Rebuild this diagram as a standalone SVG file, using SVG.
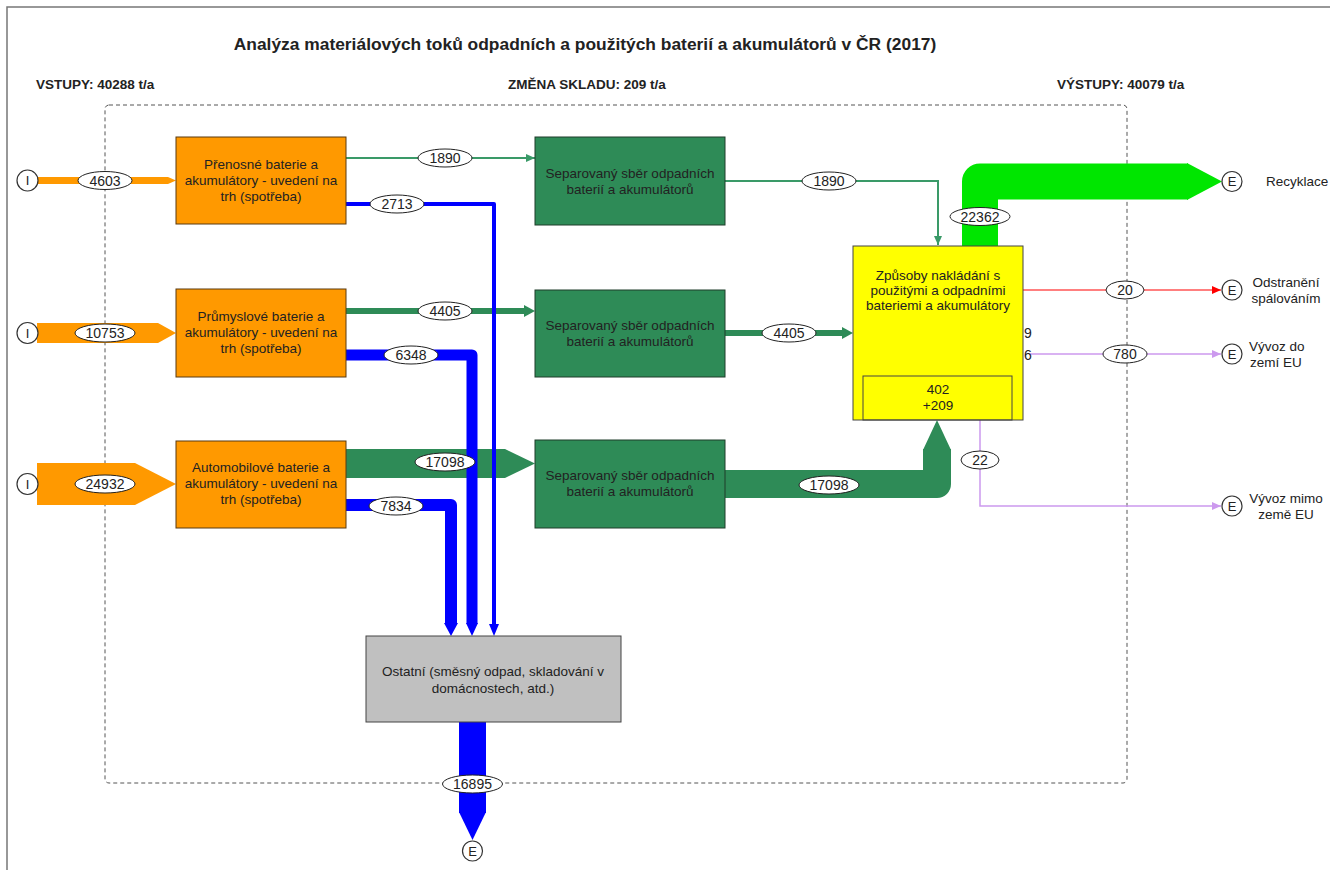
<svg xmlns="http://www.w3.org/2000/svg" width="1330" height="870" viewBox="0 0 1330 870">
<style>
text{font-family:"Liberation Sans",Arial,sans-serif;fill:#222}
.t{font-size:13.5px;text-anchor:middle}
.h{font-size:13.5px;font-weight:bold}
.lbl{fill:#fff;stroke:#222;stroke-width:1}
.ln{font-size:14px;text-anchor:middle}
.org{fill:#FF9900;stroke:#5a3a10;stroke-width:1}
.grn{fill:#2E8B57;stroke:#1f3d2a;stroke-width:1}
.cir{fill:#fff;stroke:#333;stroke-width:1.2}
.ct{font-size:13px;text-anchor:middle}
.r{font-size:13.5px}
</style>
<defs>
<marker id="mg" markerUnits="userSpaceOnUse" markerWidth="10" markerHeight="10" refX="9" refY="5" orient="auto"><path d="M0,1 L9,5 L0,9 Z" fill="#3a9a68"/></marker>
<marker id="mr" markerUnits="userSpaceOnUse" markerWidth="10" markerHeight="10" refX="9" refY="5" orient="auto"><path d="M0,1 L9,5 L0,9 Z" fill="#ff0000"/></marker>
<marker id="ml" markerUnits="userSpaceOnUse" markerWidth="10" markerHeight="10" refX="9" refY="5" orient="auto"><path d="M0,1 L9,5 L0,9 Z" fill="#cc99ee"/></marker>
</defs>
<rect x="0" y="0" width="1330" height="870" fill="#fff"/>
<rect x="7" y="7" width="1400" height="900" fill="none" stroke="#777" stroke-width="1.5"/>
<text x="585" y="50" style="font-size:17.4px;font-weight:bold;text-anchor:middle">Analýza materiálových toků odpadních a použitých baterií a akumulátorů v ČR (2017)</text>
<text class="h" x="36" y="89">VSTUPY: 40288 t/a</text>
<text class="h" x="508" y="89">ZMĚNA SKLADU: 209 t/a</text>
<text class="h" x="1057" y="89">VÝSTUPY: 40079 t/a</text>
<rect x="105" y="105" width="1022" height="678" rx="4" fill="none" stroke="#555" stroke-width="1" stroke-dasharray="4 3"/>

<g id="connectors">
<polygon points="37,177 168,177 176,180.5 168,184 37,184" fill="#FF9900"/>
<polygon points="37,323 158,323 176,333 158,343 37,343" fill="#FF9900"/>
<polygon points="37,463 135,463 176,484 135,505 37,505" fill="#FF9900"/>
<line x1="346" y1="158" x2="535" y2="158" stroke="#3a9a68" stroke-width="2" marker-end="url(#mg)"/>
<line x1="346" y1="311" x2="526" y2="311" stroke="#2E8B57" stroke-width="6"/>
<polygon points="524,305 535,311 524,317" fill="#2E8B57"/>
<polygon points="346,449 505,449 535,463.5 505,478 346,478" fill="#2E8B57"/>
<path d="M346,204 H494 V625" fill="none" stroke="#0000FF" stroke-width="4" stroke-linejoin="round"/>
<polygon points="489,624 499,624 494,636" fill="#0000FF"/>
<path d="M346,355 H472 V624" fill="none" stroke="#0000FF" stroke-width="11" stroke-linejoin="round"/>
<polygon points="466,623 478,623 472,636" fill="#0000FF"/>
<path d="M346,505 H451 V624" fill="none" stroke="#0000FF" stroke-width="12" stroke-linejoin="round"/>
<polygon points="444,623 458,623 451,636" fill="#0000FF"/>
<path d="M725,181 H938 V245" fill="none" stroke="#3a9a68" stroke-width="2" marker-end="url(#mg)"/>
<line x1="725" y1="333" x2="844" y2="333" stroke="#2E8B57" stroke-width="6"/>
<polygon points="842,327 853,333 842,339" fill="#2E8B57"/>
<path d="M725,484 H937 V449" fill="none" stroke="#2E8B57" stroke-width="28" stroke-linejoin="round"/>
<polygon points="923,450 951,450 937,420" fill="#2E8B57"/>
<path d="M980,246 V181.5 H1188" fill="none" stroke="#00E600" stroke-width="36" stroke-linejoin="round"/>
<polygon points="1187,163 1222,181.5 1187,200" fill="#00E600"/>
<line x1="1023" y1="290" x2="1221" y2="290" stroke="#ff0000" stroke-width="1.2" marker-end="url(#mr)"/>
<line x1="1030" y1="354" x2="1221" y2="354" stroke="#cc99ee" stroke-width="1.5" marker-end="url(#ml)"/>
<path d="M980,420 V506 H1221" fill="none" stroke="#cc99ee" stroke-width="1.5" marker-end="url(#ml)"/>
<path d="M472.5,722 V813" fill="none" stroke="#0000FF" stroke-width="27"/>
<polygon points="459,812 486,812 472.5,840" fill="#0000FF"/>
<ellipse class="lbl" cx="105" cy="180.5" rx="27" ry="9"/><text class="ln" x="105" y="185.5">4603</text>
<ellipse class="lbl" cx="105" cy="333" rx="30" ry="9"/><text class="ln" x="105" y="338">10753</text>
<ellipse class="lbl" cx="105" cy="484" rx="30" ry="9"/><text class="ln" x="105" y="489">24932</text>
<ellipse class="lbl" cx="445" cy="158" rx="27" ry="9"/><text class="ln" x="445" y="163">1890</text>
<ellipse class="lbl" cx="397" cy="204" rx="27" ry="9"/><text class="ln" x="397" y="209">2713</text>
<ellipse class="lbl" cx="445" cy="311" rx="27" ry="9"/><text class="ln" x="445" y="316">4405</text>
<ellipse class="lbl" cx="411" cy="355" rx="27" ry="9"/><text class="ln" x="411" y="360">6348</text>
<ellipse class="lbl" cx="445" cy="462" rx="30" ry="9"/><text class="ln" x="445" y="467">17098</text>
<ellipse class="lbl" cx="396" cy="506" rx="27" ry="9"/><text class="ln" x="396" y="511">7834</text>
<ellipse class="lbl" cx="829" cy="181" rx="27" ry="9"/><text class="ln" x="829" y="186">1890</text>
<ellipse class="lbl" cx="789" cy="333" rx="27" ry="9"/><text class="ln" x="789" y="338">4405</text>
<ellipse class="lbl" cx="829" cy="485" rx="30" ry="9"/><text class="ln" x="829" y="490">17098</text>
<ellipse class="lbl" cx="980" cy="216.5" rx="30" ry="9"/><text class="ln" x="980" y="221.5">22362</text>
<ellipse class="lbl" cx="1125" cy="290" rx="19" ry="9"/><text class="ln" x="1125" y="295">20</text>
<ellipse class="lbl" cx="1125" cy="354" rx="22" ry="9"/><text class="ln" x="1125" y="359">780</text>
<ellipse class="lbl" cx="980" cy="460" rx="19" ry="9"/><text class="ln" x="980" y="465">22</text>
<ellipse class="lbl" cx="472.5" cy="784" rx="30" ry="9"/><text class="ln" x="472.5" y="789">16895</text>
<text class="ln" x="1028" y="338">9</text>
<text class="ln" x="1028" y="360">6</text>
</g>

<g id="in1"><circle class="cir" cx="27.5" cy="180.5" r="10.5"/><text class="ct" x="27.5" y="185">I</text></g>
<g id="in2"><circle class="cir" cx="27.5" cy="333" r="10.5"/><text class="ct" x="27.5" y="337.5">I</text></g>
<g id="in3"><circle class="cir" cx="27.5" cy="484" r="10.5"/><text class="ct" x="27.5" y="488.5">I</text></g>

<g id="o1"><rect class="org" x="176" y="137" width="170" height="87"/>
<text class="t" x="261" y="169">Přenosné baterie a</text><text class="t" x="261" y="185">akumulátory - uvedení na</text><text class="t" x="261" y="201">trh (spotřeba)</text></g>
<g id="o2"><rect class="org" x="176" y="289" width="170" height="88"/>
<text class="t" x="261" y="321">Průmyslové baterie a</text><text class="t" x="261" y="337">akumulátory - uvedení na</text><text class="t" x="261" y="353">trh (spotřeba)</text></g>
<g id="o3"><rect class="org" x="176" y="441" width="170" height="87"/>
<text class="t" x="261" y="472">Automobilové baterie a</text><text class="t" x="261" y="488">akumulátory - uvedení na</text><text class="t" x="261" y="504">trh (spotřeba)</text></g>

<g id="g1"><rect class="grn" x="535" y="137" width="190" height="88"/>
<text class="t" x="630" y="178">Separovaný sběr odpadních</text><text class="t" x="630" y="194">baterií a akumulátorů</text></g>
<g id="g2"><rect class="grn" x="535" y="290" width="190" height="87"/>
<text class="t" x="630" y="330">Separovaný sběr odpadních</text><text class="t" x="630" y="346">baterií a akumulátorů</text></g>
<g id="g3"><rect class="grn" x="535" y="440" width="190" height="88"/>
<text class="t" x="630" y="480">Separovaný sběr odpadních</text><text class="t" x="630" y="496">baterií a akumulátorů</text></g>

<g id="yellow"><rect x="853" y="246" width="170" height="174" fill="#FFFF00" stroke="#444" stroke-width="1"/>
<text class="t" x="938" y="280">Způsoby nakládání s</text><text class="t" x="938" y="295">použitými a odpadními</text><text class="t" x="938" y="310">bateriemi a akumulátory</text>
<rect x="863" y="376" width="149" height="44" fill="none" stroke="#444" stroke-width="1"/>
<text class="t" x="938" y="394">402</text><text class="t" x="938" y="410">+209</text></g>

<g id="gray"><rect x="366" y="636" width="255" height="86" fill="#C0C0C0" stroke="#444" stroke-width="1"/>
<text class="t" x="493" y="676">Ostatní (směsný odpad, skladování v</text><text class="t" x="493" y="693">domácnostech, atd.)</text></g>

<g id="e1"><circle class="cir" cx="1232" cy="181.5" r="10"/><text class="ct" x="1232" y="186">E</text><text class="r" x="1266" y="186">Recyklace</text></g>
<g id="e2"><circle class="cir" cx="1232" cy="290" r="10"/><text class="ct" x="1232" y="294.5">E</text><text class="t" x="1286" y="287">Odstranění</text><text class="t" x="1286" y="303">spálováním</text></g>
<g id="e3"><circle class="cir" cx="1232" cy="354" r="10"/><text class="ct" x="1232" y="358.5">E</text><text class="r" x="1249" y="351">Vývoz do</text><text class="r" x="1250" y="367">zemí EU</text></g>
<g id="e4"><circle class="cir" cx="1232" cy="506" r="10"/><text class="ct" x="1232" y="510.5">E</text><text class="t" x="1286" y="503">Vývoz mimo</text><text class="t" x="1286" y="519">země EU</text></g>
<g id="e5"><circle class="cir" cx="472.5" cy="851" r="10"/><text class="ct" x="472.5" y="855.5">E</text></g>
</svg>
